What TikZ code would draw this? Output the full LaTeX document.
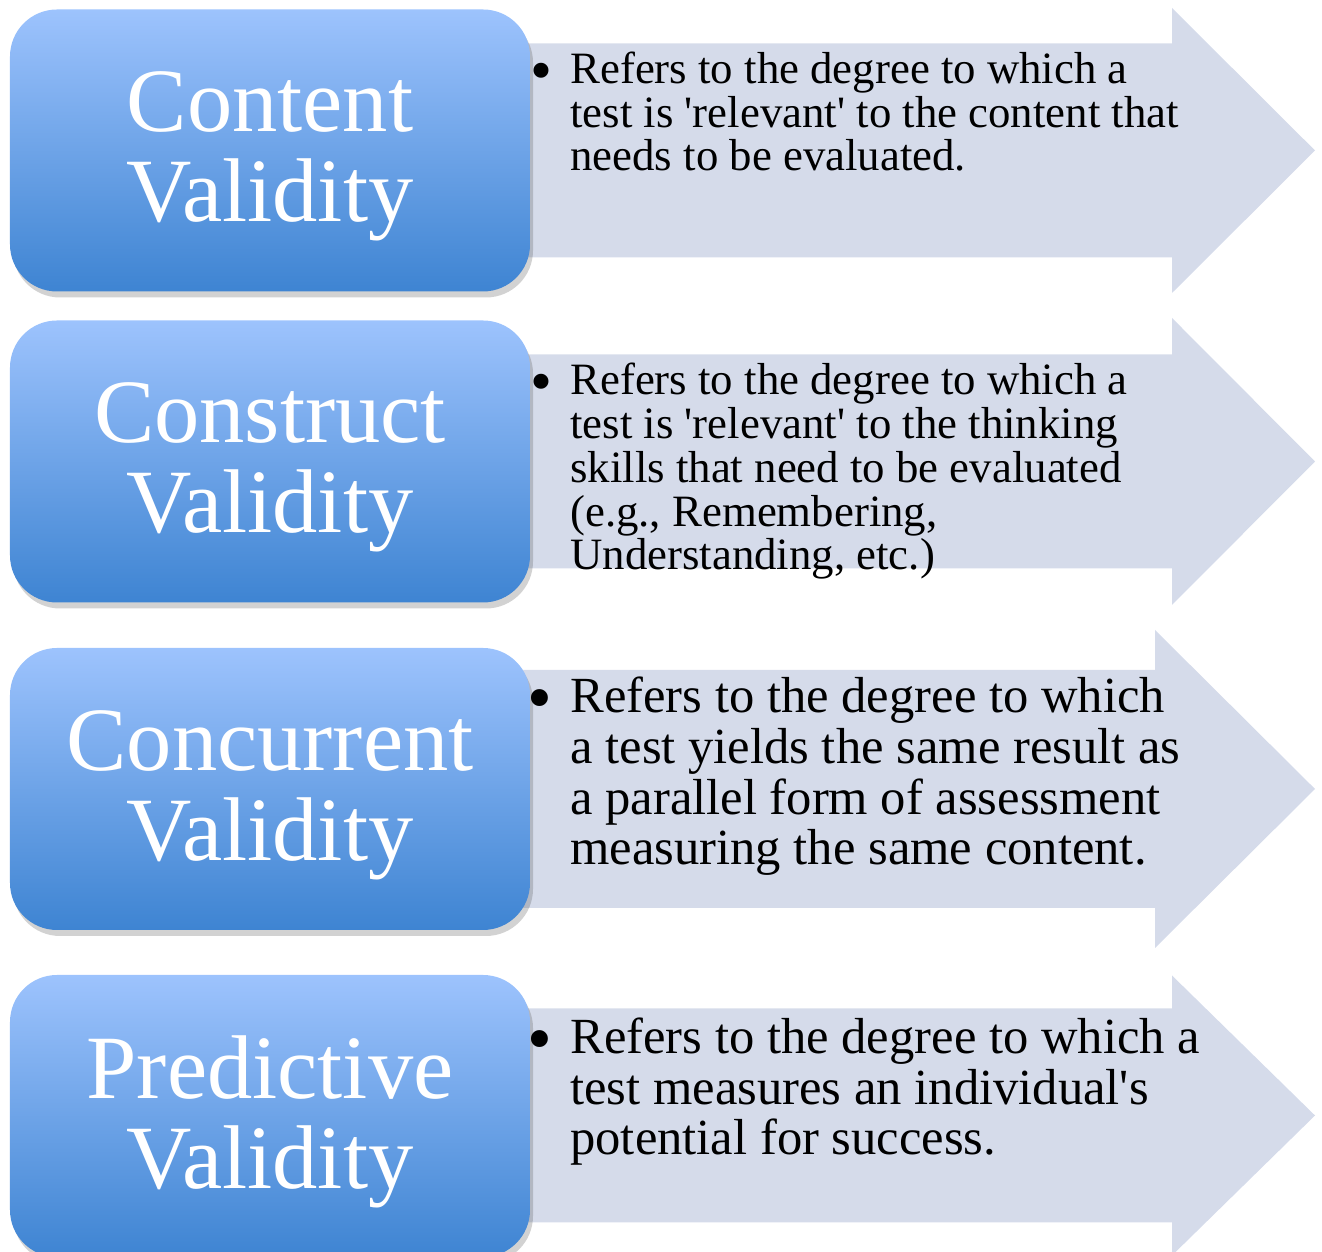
\documentclass[tikz,border=0pt]{standalone}
\usepackage{fontspec}
\setmainfont{Liberation Serif}
\usetikzlibrary{shadows}
\definecolor{boxtop}{RGB}{157,195,253}
\definecolor{boxbottom}{RGB}{62,132,210}
\definecolor{arrowfill}{RGB}{213,219,234}
\tikzset{
	validbox/.style={rounded corners=0.94cm, minimum width=10.4cm, minimum height=5.64cm, inner sep=0pt,
		top color=boxtop, bottom color=boxbottom, text=white, align=center, text depth=4pt,
		font=\fontsize{51.5}{51.2}\selectfont,
		drop shadow={shadow xshift=0.06cm, shadow yshift=-0.12cm, opacity=0.25, fill=black!70}},
	desc/.style={anchor=base west, align=left, inner sep=0pt, font=\fontsize{25.5}{25}\selectfont},
	descbig/.style={desc, font=\fontsize{28.8}{29}\selectfont}
}
\newcommand{\bul}{\llap{\raisebox{-0.4ex}{\scalebox{1.4}{\textbullet}}\hspace{0.36cm}}}
\begin{document}
\begin{tikzpicture}
	\useasboundingbox (0,0) rectangle (26.44,25.04);
	\fill[arrowfill, shift={(0,22.03)}] (10,2.14) -- (23.44,2.14) -- (23.44,2.85) -- (26.3,0) -- (23.44,-2.85) -- (23.44,-2.14) -- (10,-2.14) -- cycle;
	\fill[arrowfill, shift={(0,15.81)}] (10,2.14) -- (23.44,2.14) -- (23.44,2.87) -- (26.3,0) -- (23.44,-2.87) -- (23.44,-2.14) -- (10,-2.14) -- cycle;
	\fill[arrowfill, shift={(0,9.26)}] (10,2.38) -- (23.10,2.38) -- (23.10,3.18) -- (26.3,0) -- (23.10,-3.18) -- (23.10,-2.38) -- (10,-2.38) -- cycle;
	\fill[arrowfill, shift={(0,2.73)}] (10,2.14) -- (23.44,2.14) -- (23.44,2.80) -- (26.3,0) -- (23.44,-2.80) -- (23.44,-2.14) -- (10,-2.14) -- cycle;
	\node[validbox] (content) at (5.4,22.03) {Content\\Validity};
	\node[validbox] (construct) at (5.4,15.81) {Construct\\Validity};
	\node[validbox] (concurrent) at (5.4,9.26) {Concurrent\\Validity};
	\node[validbox] (predictive) at (5.4,2.72) {Predictive\\Validity};
	\node[desc] (contentdesc) at (11.4,21.62) {\bul Refers to the degree to which a\\test is \textquotesingle relevant\textquotesingle{} to the content that\\needs to be evaluated.};
	\node[desc] (constructdesc) at (11.4,13.64) {\bul Refers to the degree to which a\\test is \textquotesingle relevant\textquotesingle{} to the thinking\\skills that need to be evaluated\\(e.g., Remembering,\\Understanding, etc.)};
	\node[descbig] (concurrentdesc) at (11.4,7.74) {\bul Refers to the degree to which\\a test yields the same result as\\a parallel form of assessment\\measuring the same content.};
	\node[descbig] (predictivedesc) at (11.4,1.94) {\bul Refers to the degree to which a\\test measures an individual\textquotesingle s\\potential for success.};
\end{tikzpicture}
\end{document}
